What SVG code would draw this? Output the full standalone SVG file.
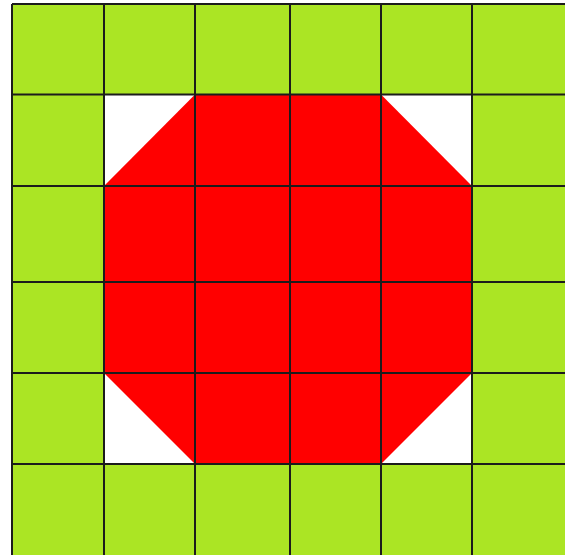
<svg xmlns="http://www.w3.org/2000/svg" width="565" height="555" viewBox="0 0 565 555">
  <style>
    .grid { stroke: #1c1c1c; stroke-width: 2; fill: none; }
  </style>
  <rect x="0" y="0" width="565" height="555" fill="#ffffff"/>
  <rect x="12" y="4" width="553" height="551" fill="#abe524"/>
  <rect x="104" y="94.5" width="368" height="369.5" fill="#ffffff"/>
  <polygon points="195,94.5 381,94.5 472,186 472,373 381,464 195,464 104,373 104,186" fill="#ff0000"/>
  <g class="grid">
    <line x1="12" y1="4" x2="565" y2="4"/>
    <line x1="12" y1="94.5" x2="565" y2="94.5"/>
    <line x1="12" y1="186" x2="565" y2="186"/>
    <line x1="12" y1="282" x2="565" y2="282"/>
    <line x1="12" y1="373" x2="565" y2="373"/>
    <line x1="12" y1="464" x2="565" y2="464"/>
    <line x1="12" y1="4" x2="12" y2="555"/>
    <line x1="104" y1="4" x2="104" y2="555"/>
    <line x1="195" y1="4" x2="195" y2="555"/>
    <line x1="290" y1="4" x2="290" y2="555"/>
    <line x1="381" y1="4" x2="381" y2="555"/>
    <line x1="472" y1="4" x2="472" y2="555"/>
  </g>
</svg>
